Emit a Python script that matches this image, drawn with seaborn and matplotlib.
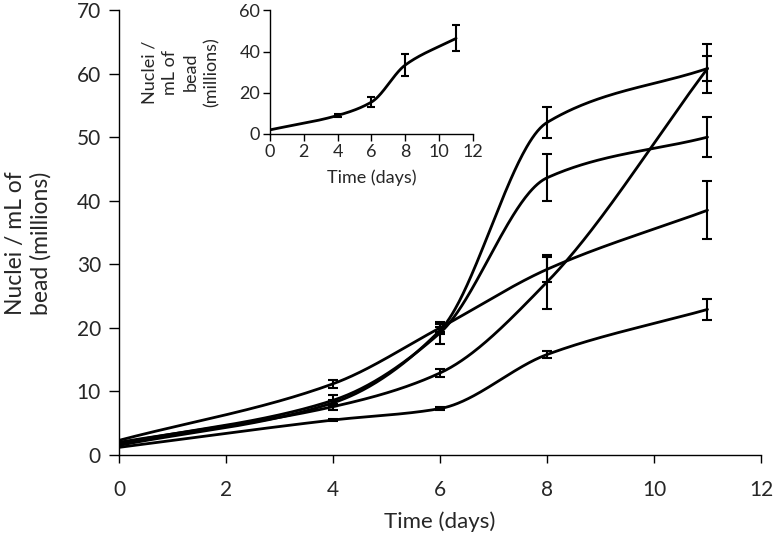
import numpy as np
import pandas as pd
import seaborn as sns
import matplotlib.pyplot as plt

# time points (days)
days = [0, 4, 6, 8, 11]

# main plot: five cultures, mean nuclei per mL bead (millions) and error
cult_a = [2.3, 11.2, 20.0, 29.2, 38.5]
cult_a_err = [0.0, 0.6, 0.6, 2.0, 4.6]
cult_b = [1.5, 8.2, 19.6, 52.3, 60.8]
cult_b_err = [0.0, 0.5, 0.6, 2.5, 3.9]
cult_c = [1.8, 8.6, 19.2, 43.6, 50.0]
cult_c_err = [0.0, 0.9, 1.7, 3.7, 3.2]
cult_d = [2.0, 7.6, 12.9, 27.2, 60.8]
cult_d_err = [0.0, 0.5, 0.7, 4.2, 2.0]
cult_e = [1.2, 5.5, 7.3, 15.8, 22.9]
cult_e_err = [0.0, 0.2, 0.3, 0.5, 1.7]

# inset: average over cultures
avg = [2.0, 9.0, 15.5, 33.5, 46.4]
avg_err = [0.0, 0.8, 2.4, 5.4, 6.3]


def smooth(xs, ys, n=80):
    # monotone cubic curve through the points (smoothed line), secant slope at the ends
    x = np.asarray(xs, float)
    y = np.asarray(ys, float)
    h = np.diff(x)
    s = np.diff(y) / h
    d = np.zeros_like(y)
    for k in range(1, len(x) - 1):
        if s[k - 1] * s[k] > 0:
            w1 = 2 * h[k] + h[k - 1]
            w2 = h[k] + 2 * h[k - 1]
            d[k] = (w1 + w2) / (w1 / s[k - 1] + w2 / s[k])
    d[0] = s[0]
    d[-1] = s[-1]
    px, py = [], []
    for k in range(len(x) - 1):
        t = np.linspace(0, 1, n)
        h00 = 2 * t**3 - 3 * t**2 + 1
        h10 = t**3 - 2 * t**2 + t
        h01 = -2 * t**3 + 3 * t**2
        h11 = t**3 - t**2
        px.append(x[k] + t * h[k])
        py.append(h00 * y[k] + h10 * h[k] * d[k] + h01 * y[k + 1] + h11 * h[k] * d[k + 1])
    return np.concatenate(px), np.concatenate(py)


def draw(ax, ys, errs, lw=2.0, cap=3.5):
    sx, sy = smooth(days, ys)
    df = pd.DataFrame({'x': sx, 'y': sy})
    sns.lineplot(data=df, x='x', y='y', sort=False, estimator=None, color='black', lw=lw, ax=ax)
    ax.errorbar(days[1:], ys[1:], yerr=errs[1:], fmt='none', ecolor='black',
                elinewidth=1.5, capsize=cap, capthick=1.5)


sns.set_style("ticks")
plt.rcParams['font.family'] = ['Lato', 'DejaVu Sans']

fig = plt.figure(figsize=(7.74, 5.37), dpi=100)
ax = fig.add_axes([0.1537, 0.1527, 0.8295, 0.8287])

for ys, errs in [(cult_a, cult_a_err), (cult_b, cult_b_err), (cult_c, cult_c_err),
                 (cult_d, cult_d_err), (cult_e, cult_e_err)]:
    draw(ax, ys, errs)

ax.set_xlim(0, 12)
ax.set_ylim(0, 70)
ax.set_xticks(range(0, 13, 2))
ax.set_yticks(range(0, 71, 10))
ax.tick_params(labelsize=15, width=1, color='black', direction='out')
ax.tick_params(axis='x', length=6, pad=12)
ax.tick_params(axis='y', length=7, pad=6)
ax.set_xlabel('Time (days)', fontsize=16)
ax.xaxis.set_label_coords(0.5, -0.151)
ax.xaxis.label.set_va('center')
ax.set_ylabel('Nuclei / mL of\nbead (millions)', fontsize=16.5, linespacing=1.25)
ax.yaxis.set_label_coords(-0.141, 0.476)
ax.yaxis.label.set_va('center')
for s in ['left', 'bottom']:
    ax.spines[s].set_color('black')
    ax.spines[s].set_linewidth(1)
sns.despine(ax=ax)

# inset
ins = fig.add_axes([0.3488, 0.7505, 0.2623, 0.2302])
draw(ins, avg, avg_err, lw=2.0, cap=3)
ins.set_xlim(0, 12)
ins.set_ylim(0, 60)
ins.set_xticks(range(0, 13, 2))
ins.set_yticks(range(0, 61, 20))
ins.tick_params(labelsize=13, length=5, width=1, color='black', direction='out', pad=2)
ins.set_xlabel('Time (days)', fontsize=13)
ins.xaxis.set_label_coords(0.5, -0.355)
ins.xaxis.label.set_va('center')
ins.set_ylabel('Nuclei /\nmL of\nbead\n(millions)', fontsize=13, linespacing=1.35)
ins.yaxis.set_label_coords(-0.44, 0.5)
ins.yaxis.label.set_va('center')
for s in ['left', 'bottom']:
    ins.spines[s].set_color('black')
    ins.spines[s].set_linewidth(1)
sns.despine(ax=ins)

fig.savefig('out.png', dpi=100)
